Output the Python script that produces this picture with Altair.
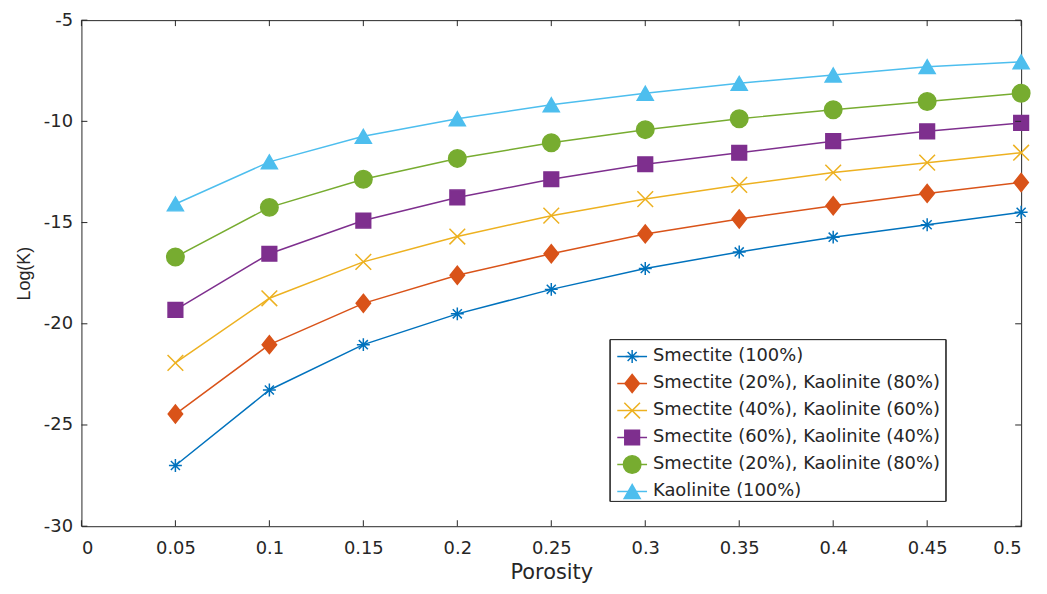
import altair as alt
import pandas as pd

# ---- data ----
porosity = [0.05, 0.10, 0.15, 0.20, 0.25, 0.30, 0.35, 0.40, 0.45, 0.50]

smectite_100 = [-27.00, -23.27, -21.03, -19.51, -18.30, -17.27, -16.45, -15.72, -15.11, -14.49]
s20_k80_a    = [-24.46, -21.03, -18.99, -17.60, -16.54, -15.56, -14.82, -14.17, -13.56, -13.02]
s40_k60      = [-21.93, -18.74, -16.94, -15.69, -14.66, -13.84, -13.14, -12.53, -12.04, -11.55]
s60_k40      = [-19.31, -16.54, -14.90, -13.76, -12.86, -12.12, -11.55, -10.98, -10.49, -10.08]
s20_k80_b    = [-16.70, -14.25, -12.86, -11.83, -11.06, -10.41, -9.87, -9.43, -9.02, -8.61]
kaolinite    = [-14.08, -12.00, -10.74, -9.87, -9.18, -8.61, -8.12, -7.71, -7.30, -7.06]

series_ids = ["s1", "s2", "s3", "s4", "s5", "s6"]
series_labels = [
    "Smectite (100%)",
    "Smectite (20%), Kaolinite (80%)",
    "Smectite (40%), Kaolinite (60%)",
    "Smectite (60%), Kaolinite (40%)",
    "Smectite (20%), Kaolinite (80%)",
    "Kaolinite (100%)",
]
series_values = [smectite_100, s20_k80_a, s40_k60, s60_k40, s20_k80_b, kaolinite]

x_ticks = [0, 0.05, 0.1, 0.15, 0.2, 0.25, 0.3, 0.35, 0.4, 0.45, 0.5]
y_ticks = [-30, -25, -20, -15, -10, -5]

# ---- styling ----
colors = ["#0072BD", "#D95319", "#EDB120", "#7E2F8E", "#77AC30", "#4DBEEE"]
star = "M-1,0L1,0M0,-1L0,1M-0.7,-0.7L0.7,0.7M-0.7,0.7L0.7,-0.7"
diamond = "M0,-1L0.8,0L0,1L-0.8,0Z"
xmark = "M-1,-1L1,1M-1,1L1,-1"
shapes = [star, diamond, xmark, "square", "circle", "triangle-up"]
sizes = [170, 330, 250, 220, 310, 260]

W, H = 947, 510
FONT = "DejaVu Sans"
TXT = "#262626"

rows = []
for sid, lab, vals in zip(series_ids, series_labels, series_values):
    for p, v in zip(porosity, vals):
        rows.append({"sid": sid, "label": lab, "porosity": p, "logk": v})
df = pd.DataFrame(rows)

legend_df = pd.DataFrame({"sid": series_ids, "label": series_labels,
                          "idx": list(range(len(series_ids)))})

color_scale = alt.Scale(domain=series_ids, range=colors)
shape_scale = alt.Scale(domain=series_ids, range=shapes)
size_scale = alt.Scale(type="ordinal", domain=series_ids, range=sizes)

X = alt.X("porosity:Q", title="Porosity",
          scale=alt.Scale(domain=[0, 0.5], nice=False, zero=False),
          axis=alt.Axis(values=x_ticks, format="~g"))
Y = alt.Y("logk:Q", title="Log(K)",
          scale=alt.Scale(domain=[-30, -5], nice=False, zero=False),
          axis=alt.Axis(values=y_ticks, labelExpr="toString(datum.value)",
                        titleFont="Liberation Sans", titleFontSize=18))
C = alt.Color("sid:N", scale=color_scale, legend=None)
S = alt.Stroke("sid:N", scale=color_scale, legend=None)
SH = alt.Shape("sid:N", scale=shape_scale, legend=None)
SZ = alt.Size("sid:N", scale=size_scale, legend=None)

base = alt.Chart(df)
lines = base.mark_line(strokeWidth=1.5).encode(x=X, y=Y, color=C, detail="sid:N")
points = base.mark_point(filled=True, opacity=1, strokeWidth=1.5).encode(
    x=X, y=Y, color=C, stroke=S, shape=SH, size=SZ)

xt = pd.DataFrame({"porosity": x_ticks})
yt = pd.DataFrame({"logk": y_ticks})
tick_bottom = alt.Chart(xt).mark_rule(color=TXT, strokeWidth=1).encode(
    x=X, y=alt.value(H), y2=alt.value(H - 6))
tick_top = alt.Chart(xt).mark_rule(color=TXT, strokeWidth=1).encode(
    x=X, y=alt.value(0), y2=alt.value(6))
tick_left = alt.Chart(yt).mark_rule(color=TXT, strokeWidth=1).encode(
    y=Y, x=alt.value(0), x2=alt.value(6))
tick_right = alt.Chart(yt).mark_rule(color=TXT, strokeWidth=1).encode(
    y=Y, x=alt.value(W), x2=alt.value(W - 6))

# ---- legend (drawn in pixel space inside the plot) ----
lbase = alt.Chart(legend_df).transform_calculate(ly="339 + datum.idx * 27.2")
LY = alt.Y("ly:Q", scale=None)
leg_box = alt.Chart(legend_df).mark_rect(fill="white", stroke=TXT, strokeWidth=1).encode(
    x=alt.value(533), x2=alt.value(871), y=alt.value(322), y2=alt.value(485))
leg_lines = lbase.mark_rule(strokeWidth=1.5).encode(
    x=alt.value(540), x2=alt.value(570), y=LY, color=C)
leg_pts = lbase.mark_point(filled=True, opacity=1, strokeWidth=1.5).encode(
    x=alt.value(555), y=LY, color=C, stroke=S, shape=SH, size=SZ)
leg_text = lbase.mark_text(align="left", baseline="middle", font=FONT,
                           fontSize=18, color=TXT).encode(
    x=alt.value(576), y=LY, text="label:N")

chart = alt.layer(
    lines, points, tick_bottom, tick_top, tick_left, tick_right,
    leg_box, leg_lines, leg_pts, leg_text
).properties(
    width=W, height=H,
    padding={"left": 74, "top": 10, "right": 18, "bottom": 56},
    autosize=alt.AutoSizeParams(type="none"),
).configure_view(
    stroke=TXT, strokeWidth=1
).configure_axis(
    grid=False, ticks=False, domain=False,
    labelFont=FONT, labelFontSize=18, labelColor=TXT,
    titleFont=FONT, titleFontSize=21, titleFontWeight="normal", titleColor=TXT,
).configure_axisX(
    labelPadding=13, titlePadding=5
).configure_axisY(
    labelPadding=9, titlePadding=10
)

chart.save("out.html", embed_options={"renderer": "svg", "actions": False})
